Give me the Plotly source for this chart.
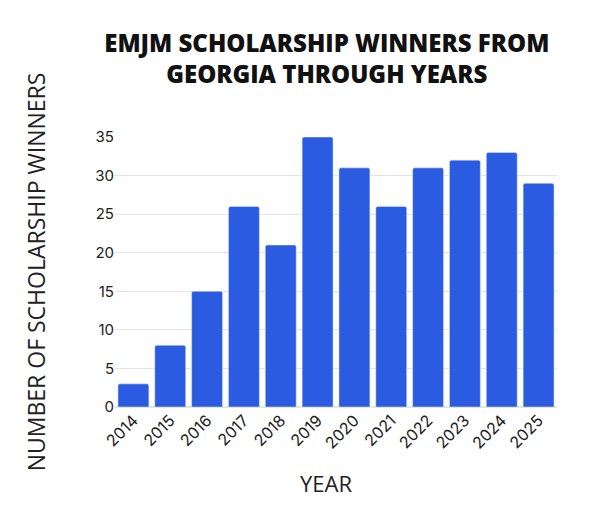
import plotly.graph_objects as go

years = ["2014", "2015", "2016", "2017", "2018", "2019", "2020", "2021", "2022", "2023", "2024", "2025"]
winners = [3, 8, 15, 26, 21, 35, 31, 26, 31, 32, 33, 29]
y_ticks = [0, 5, 10, 15, 20, 25, 30, 35]

fig = go.Figure(go.Bar(
    x=years, y=winners,
    marker=dict(color="#2B5BE0", cornerradius=2),
    width=0.84,
))

fig.update_layout(
    width=597, height=512,
    paper_bgcolor="white", plot_bgcolor="white",
    margin=dict(l=107, r=48, t=129, b=113),
    showlegend=False,
    title=dict(
        text="EMJM SCHOLARSHIP WINNERS FROM<br>GEORGIA THROUGH YEARS",
        x=0.534, xanchor="center", y=0.914, yanchor="middle",
        font=dict(family="Open Sans", size=24, color="#111111", weight=800),
    ),
    font=dict(family="Inter", color="#222222"),
    annotations=[dict(
        text="YEAR", xref="paper", yref="paper", x=0.477, y=-0.283,
        xanchor="center", yanchor="middle", showarrow=False,
        font=dict(family="Open Sans", size=22, color="#222222"),
    )],
)
fig.update_xaxes(
    type="category", tickangle=-45, tickfont=dict(size=16, color="#222222"),
    showgrid=False, showline=False, ticks="", automargin=False,
)
fig.update_yaxes(
    range=[0, 35], tickvals=y_ticks, tickfont=dict(size=15, color="#222222"),
    gridcolor="#e4e4e4", gridwidth=1, zeroline=True, zerolinecolor="#e4e4e4",
    title=dict(text="NUMBER OF SCHOLARSHIP WINNERS", font=dict(family="Open Sans", size=23, color="#222222"), standoff=43),
    ticks="", showline=False, automargin=False,
)

fig.write_html("out.html")
